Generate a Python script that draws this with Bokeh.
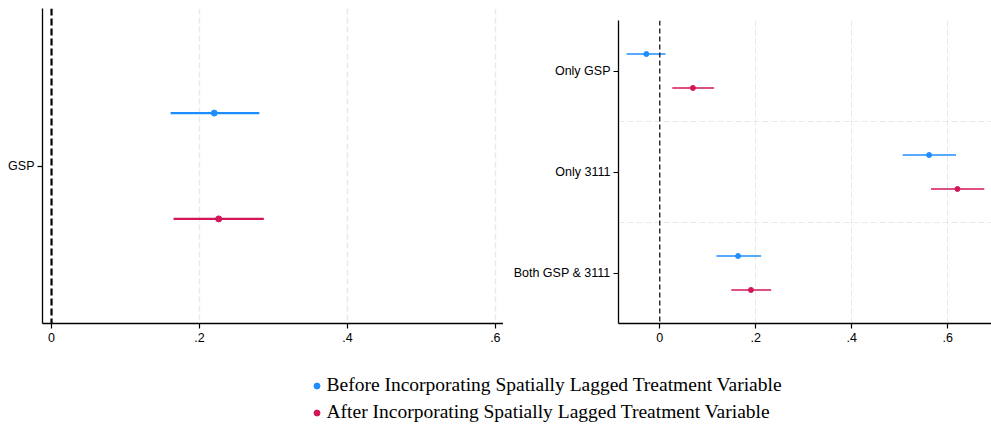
from bokeh.plotting import figure
from bokeh.layouts import column, row
from bokeh.models import Range1d, FixedTicker, Span, Legend, LegendItem, ColumnDataSource, Spacer
from bokeh.embed import file_html
from bokeh.resources import INLINE

# ---------------- data ----------------
series_labels = ["Before Incorporating Spatially Lagged Treatment Variable",
                 "After Incorporating Spatially Lagged Treatment Variable"]

left_categories = ["GSP"]
left_before_coef = [0.220]
left_before_lo = [0.161]
left_before_hi = [0.281]
left_after_coef = [0.226]
left_after_lo = [0.165]
left_after_hi = [0.287]

right_categories = ["Only GSP", "Only 3111", "Both GSP & 3111"]
right_before_coef = [-0.028, 0.561, 0.163]
right_before_lo = [-0.069, 0.506, 0.118]
right_before_hi = [0.012, 0.617, 0.211]
right_after_coef = [0.069, 0.620, 0.190]
right_after_lo = [0.026, 0.565, 0.149]
right_after_hi = [0.113, 0.676, 0.232]

xtick_values = [0, 0.2, 0.4, 0.6]
xtick_labels = ["0", ".2", ".4", ".6"]

BLUE = "#1E8EFF"
RED = "#D3165A"
OFFSET = 0.168
SANS = "Liberation Sans"


def make_panel(cats, bc, bl, bh, ac, al, ah, width, height, xr, border_left, border_top,
               lw, msize, zero_w, zero_dash, grid_w):
    n = len(cats)
    p = figure(width=width, height=height, x_range=Range1d(*xr), y_range=Range1d(n + 0.5, 0.5),
               output_backend="svg", toolbar_location=None,
               min_border_left=border_left, min_border_right=0,
               min_border_top=border_top, min_border_bottom=25)
    p.outline_line_color = None
    p.background_fill_color = "white"
    p.border_fill_color = "white"

    pos = list(range(1, n + 1))
    yb = [v - OFFSET for v in pos]
    ya = [v + OFFSET for v in pos]

    # grids
    p.xgrid.ticker = FixedTicker(ticks=[t for t in xtick_values if t != 0])
    p.xgrid.grid_line_color = "#e9e9e9"
    p.xgrid.grid_line_dash = "6 3"
    p.xgrid.grid_line_width = grid_w
    if n > 1:
        p.ygrid.ticker = FixedTicker(ticks=[v + 0.5 for v in pos[:-1]])
        p.ygrid.grid_line_color = "#e9e9e9"
        p.ygrid.grid_line_dash = "6 3"
        p.ygrid.grid_line_width = grid_w
    else:
        p.ygrid.visible = False

    p.add_layout(Span(location=0, dimension="height", line_color="black",
                      line_width=zero_w, line_dash=zero_dash))

    sb = ColumnDataSource(dict(y=yb, c=bc, lo=bl, hi=bh))
    sa = ColumnDataSource(dict(y=ya, c=ac, lo=al, hi=ah))
    p.segment(x0="lo", y0="y", x1="hi", y1="y", source=sb, line_color=BLUE, line_width=lw)
    p.scatter(x="c", y="y", source=sb, size=msize, fill_color=BLUE, line_color=BLUE)
    p.segment(x0="lo", y0="y", x1="hi", y1="y", source=sa, line_color=RED, line_width=lw)
    p.scatter(x="c", y="y", source=sa, size=msize, fill_color=RED, line_color=RED)

    # axes
    p.xaxis.ticker = FixedTicker(ticks=xtick_values)
    p.xaxis.major_label_overrides = dict(zip(xtick_values, xtick_labels))
    p.yaxis.ticker = FixedTicker(ticks=pos)
    p.yaxis.major_label_overrides = dict(zip(pos, cats))
    for ax in (p.xaxis[0], p.yaxis[0]):
        ax.axis_line_color = "black"
        ax.axis_line_width = 1.3
        ax.major_tick_line_color = "black"
        ax.major_tick_line_width = 1.2
        ax.major_tick_in = 0
        ax.major_tick_out = 5
        ax.minor_tick_line_color = None
        ax.major_label_text_font = SANS
        ax.major_label_text_font_size = "12.5px"
        ax.major_label_text_color = "black"
    p.xaxis.major_label_standoff = 4
    p.yaxis.major_label_standoff = 3
    return p


left = make_panel(left_categories, left_before_coef, left_before_lo, left_before_hi,
                  left_after_coef, left_after_lo, left_after_hi,
                  width=503, height=348, xr=(-0.0122, 0.611), border_left=42, border_top=8,
                  lw=2.2, msize=6, zero_w=2.2, zero_dash="7 3", grid_w=1.5)

right = make_panel(right_categories, right_before_coef, right_before_lo, right_before_hi,
                   right_after_coef, right_after_lo, right_after_hi,
                   width=488, height=328, xr=(-0.086, 0.691), border_left=115, border_top=0,
                   lw=1.4, msize=5, zero_w=1.2, zero_dash="5 3", grid_w=1.0)

# legend panel
lg = figure(width=991, height=76, x_range=Range1d(0, 1), y_range=Range1d(0, 1),
            output_backend="svg", toolbar_location=None, min_border=0)
lg.outline_line_color = None
lg.xaxis.visible = False
lg.yaxis.visible = False
lg.xgrid.visible = False
lg.ygrid.visible = False
nan = float("nan")
rb = lg.scatter(x=[nan], y=[nan], size=6, fill_color=BLUE, line_color=BLUE)
ra = lg.scatter(x=[nan], y=[nan], size=6, fill_color=RED, line_color=RED)
legend = Legend(items=[LegendItem(label=series_labels[0], renderers=[rb]),
                       LegendItem(label=series_labels[1], renderers=[ra])],
                location=(308.5, 1), orientation="vertical",
                label_text_font="Liberation Serif", label_text_font_size="19.5px",
                label_text_color="black",
                glyph_width=15, glyph_height=21, label_height=21, spacing=5,
                padding=0, margin=0, label_standoff=3,
                border_line_color=None, background_fill_alpha=0)
lg.add_layout(legend)

layout = column(row(left, column(Spacer(width=488, height=20), right)), lg)
open("out.html", "w").write(file_html(layout, INLINE))
